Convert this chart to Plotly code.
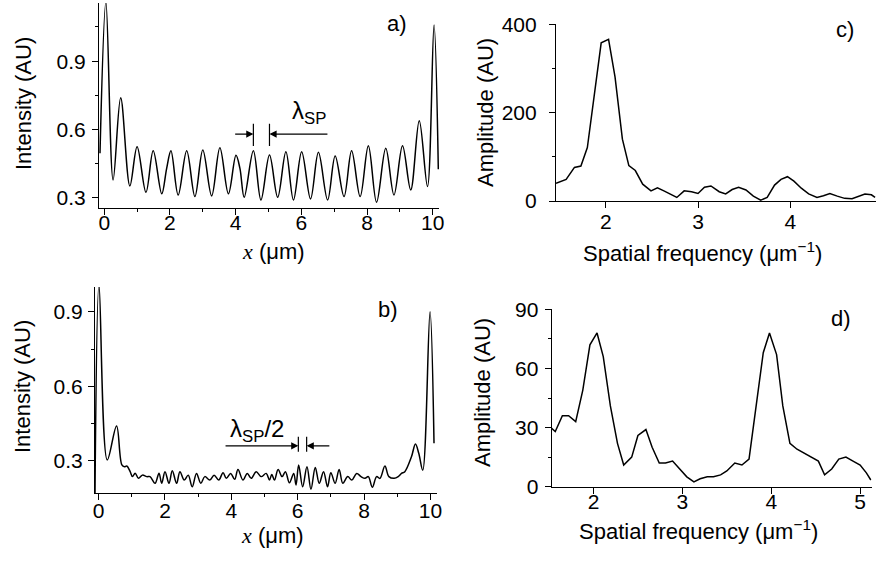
import plotly.graph_objects as go

# panel a: intensity profile, lambda_SP period
xa = [-0.13, 0.05, 0.27, 0.50, 0.78, 1.0, 1.27, 1.49, 1.75, 1.9, 2.03, 2.25, 2.51, 2.76, 3.0,
      3.27, 3.52, 3.78, 4.01, 4.13, 4.26, 4.54, 4.77, 5.03, 5.28, 5.53, 5.76, 6.01, 6.28, 6.52,
      6.80, 7.03, 7.30, 7.53, 7.79, 8.04, 8.29, 8.57, 8.82, 9.08, 9.33, 9.59, 9.84, 10.04, 10.17]
ya = [0.496, 1.16, 0.379, 0.739, 0.353, 0.525, 0.325, 0.507, 0.318, 0.43, 0.507, 0.313, 0.507,
      0.306, 0.51, 0.309, 0.52, 0.318, 0.487, 0.43, 0.303, 0.507, 0.291, 0.488, 0.303, 0.503,
      0.291, 0.503, 0.296, 0.5, 0.291, 0.484, 0.306, 0.507, 0.306, 0.529, 0.281, 0.518, 0.313,
      0.529, 0.335, 0.639, 0.35, 1.058, 0.426]

# panel b: intensity profile, lambda_SP/2 period
xb = [-0.11, 0.01, 0.26, 0.54, 0.70, 0.78, 0.85, 0.95, 1.02, 1.1, 1.2, 1.32, 1.45, 1.55, 1.7,
      1.82, 1.9, 2.0, 2.12, 2.22, 2.35, 2.45, 2.58, 2.7, 2.82, 2.95, 3.08, 3.2, 3.35, 3.48, 3.62,
      3.75, 3.85, 3.98, 4.1, 4.2, 4.35, 4.48, 4.6, 4.75, 4.9, 5.05, 5.15, 5.22, 5.3, 5.41, 5.53,
      5.63, 5.75, 5.88, 5.95, 6.03, 6.15, 6.28, 6.4, 6.53, 6.65, 6.78, 6.9, 7.0, 7.13, 7.25,
      7.36, 7.51, 7.63, 7.78, 7.91, 8.03, 8.13, 8.25, 8.38, 8.48, 8.63, 8.75, 8.91, 9.03, 9.13,
      9.23, 9.43, 9.55, 9.65, 9.77, 9.99, 10.11]
yb = [0.17, 1.01, 0.303, 0.44, 0.283, 0.276, 0.279, 0.256, 0.236, 0.25, 0.229, 0.242, 0.236,
      0.236, 0.209, 0.25, 0.209, 0.256, 0.209, 0.26, 0.209, 0.256, 0.222, 0.242, 0.195, 0.249,
      0.209, 0.236, 0.222, 0.242, 0.222, 0.252, 0.229, 0.249, 0.225, 0.265, 0.222, 0.249, 0.229,
      0.256, 0.236, 0.249, 0.222, 0.245, 0.222, 0.265, 0.236, 0.256, 0.211, 0.249, 0.202, 0.283,
      0.195, 0.276, 0.185, 0.273, 0.209, 0.256, 0.195, 0.252, 0.209, 0.265, 0.209, 0.236, 0.222,
      0.249, 0.236, 0.229, 0.236, 0.193, 0.236, 0.229, 0.279, 0.236, 0.229, 0.236, 0.249, 0.256,
      0.316, 0.367, 0.33, 0.262, 0.9, 0.37]

# panel c: spectrum of a
xc = [1.46, 1.57, 1.66, 1.73, 1.80, 1.87, 1.95, 2.03, 2.10, 2.18, 2.25, 2.32, 2.40, 2.49, 2.56,
      2.63, 2.71, 2.77, 2.85, 2.93, 3.0, 3.07, 3.14, 3.23, 3.30, 3.37, 3.44, 3.52, 3.60, 3.68,
      3.75, 3.83, 3.90, 3.97, 4.04, 4.12, 4.20, 4.29, 4.36, 4.43, 4.51, 4.59, 4.67, 4.74, 4.81,
      4.88, 4.92]
yc = [40, 49, 76, 79, 121, 236, 358, 366, 281, 140, 80, 69, 38, 23, 30, 23, 14, 8, 23, 21, 17,
      31, 34, 21, 16, 26, 31, 25, 11, 2, 8, 36, 49, 55, 45, 29, 16, 8, 12, 17, 11, 6, 5, 10, 16,
      14, 8]

# panel d: spectrum of b
xd = [1.52, 1.57, 1.65, 1.72, 1.80, 1.88, 1.96, 2.04, 2.11, 2.19, 2.27, 2.34, 2.43, 2.50, 2.59,
      2.66, 2.74, 2.81, 2.89, 2.97, 3.05, 3.13, 3.20, 3.28, 3.35, 3.43, 3.50, 3.59, 3.67, 3.75,
      3.83, 3.91, 3.98, 4.06, 4.13, 4.21, 4.29, 4.37, 4.45, 4.53, 4.60, 4.68, 4.76, 4.84, 4.92,
      5.0, 5.07, 5.12]
yd = [30, 28, 36, 36, 33, 49, 72, 78, 66, 41, 22, 11, 15, 26, 29, 20, 12, 12, 13, 9, 5, 2.4, 4,
      5, 5, 6, 8, 12, 11, 14, 40, 68, 78, 67, 41, 22, 19, 17, 15, 13, 6, 9, 14, 15, 13, 11, 7, 3.4]

W, H = 876, 561
FONT = "Liberation Sans, Arial, sans-serif"


def px(x):
    return x / W


def py(y):
    return 1 - y / H


def axis(domain, rng, dtick, mdtick=None, tick0=0, anchor=None, standoff=0):
    d = dict(domain=domain, range=rng, dtick=dtick, tick0=tick0, anchor=anchor,
             automargin=False, ticklabelstandoff=standoff,
             showline=True, linecolor="black", linewidth=1.2, showgrid=False, zeroline=False,
             ticks="outside", ticklen=6, tickwidth=1.2, tickcolor="black",
             tickfont=dict(size=21, color="black", family=FONT))
    if mdtick:
        d["minor"] = dict(ticks="outside", ticklen=3, tickwidth=1, tickcolor="black",
                          dtick=mdtick, tick0=tick0, showgrid=False)
    return d


fig = go.Figure()
line = dict(color="black", width=1.5)
fig.add_trace(go.Scatter(x=xa, y=ya, mode="lines", line=dict(line, shape="spline", smoothing=1),
                         xaxis="x", yaxis="y"))
fig.add_trace(go.Scatter(x=xb, y=yb, mode="lines", line=dict(line, shape="spline", smoothing=1),
                         xaxis="x2", yaxis="y2"))
fig.add_trace(go.Scatter(x=xc, y=yc, mode="lines", line=line, xaxis="x3", yaxis="y3"))
fig.add_trace(go.Scatter(x=xd, y=yd, mode="lines", line=line, xaxis="x4", yaxis="y4"))

fig.update_layout(
    width=W, height=H, margin=dict(l=0, r=0, t=0, b=0, autoexpand=False),
    paper_bgcolor="white", plot_bgcolor="white", showlegend=False,
    font=dict(family=FONT, color="black", size=21),
    xaxis=axis([px(99), px(439.3)], [-0.16, 10.2], 2, 1, anchor="y", standoff=-10),
    yaxis=axis([py(208), py(3)], [0.256, 1.155], 0.3, 0.15, tick0=0.3, anchor="x", standoff=2),
    xaxis2=axis([px(95), px(437)], [-0.11, 10.2], 2, 1, anchor="y2", standoff=-7),
    yaxis2=axis([py(493), py(287)], [0.17, 1.0], 0.3, 0.15, tick0=0.3, anchor="x2", standoff=1),
    xaxis3=axis([px(556), px(876)], [1.46, 4.93], 1, anchor="y3", standoff=-4),
    yaxis3=axis([py(201), py(24.3)], [0, 400], 200, 100, anchor="x3", standoff=8),
    xaxis4=axis([px(551.7), px(871.7)], [1.53, 5.13], 1, anchor="y4", standoff=-10),
    yaxis4=axis([py(486.7), py(309.3)], [0, 90], 30, 15, anchor="x4", standoff=2),
)

xlab = ("<span style='font-family:Liberation Serif;font-style:italic'>x</span> (μm)")
flab = "Spatial frequency (μm<sup>−1</sup>)"
titles = [
    (23, 104, "Intensity (AU)", -90), (273, 251, xlab, 0),
    (22, 387, "Intensity (AU)", -90), (272, 535, xlab, 0),
    (485, 112, "Amplitude (AU)", -90), (702, 252, flab, 0),
    (482, 393, "Amplitude (AU)", -90), (698, 530, flab, 0),
    (397, 23, "a)", 0), (388, 309, "b)", 0), (845, 29, "c)", 0), (841, 318, "d)", 0),
]
ann = []
for x, y, t, ang in titles:
    ann.append(dict(x=px(x), y=py(y), xref="paper", yref="paper", text=t, textangle=ang,
                    showarrow=False, xanchor="center", yanchor="middle",
                    font=dict(size=22, color="black", family=FONT)))

# lambda markers
ann.append(dict(x=6.24, y=0.675, xref="x", yref="y", text="λ<sub>SP</sub>", showarrow=False,
                font=dict(size=24, color="black", family=FONT)))
ann.append(dict(x=4.77, y=0.42, xref="x2", yref="y2", text="λ<sub>SP</sub>/2", showarrow=False,
                font=dict(size=24, color="black", family=FONT)))
arrows = [
    ("x", "y", 4.54, 0.58, 3.94, 0.58), ("x", "y", 5.03, 0.58, 6.84, 0.58),
    ("x2", "y2", 6.02, 0.36, 3.78, 0.36), ("x2", "y2", 6.27, 0.36, 7.0, 0.36),
]
for xr, yr, x, y, ax, ay in arrows:
    ann.append(dict(x=x, y=y, ax=ax, ay=ay, xref=xr, yref=yr, axref=xr, ayref=yr, text="",
                    showarrow=True, arrowhead=2, arrowsize=1.3, arrowwidth=1.1,
                    arrowcolor="black", standoff=0, startstandoff=0))
fig.update_layout(annotations=ann)

bars = [("x", "y", 4.54, 0.528, 0.625), ("x", "y", 5.03, 0.528, 0.625),
        ("x2", "y2", 6.02, 0.336, 0.397), ("x2", "y2", 6.27, 0.336, 0.397)]
for xr, yr, x, y0, y1 in bars:
    fig.add_shape(type="line", xref=xr, yref=yr, x0=x, x1=x, y0=y0, y1=y1,
                  line=dict(color="black", width=1.2))

fig.write_html("out.html", config={"displayModeBar": False},
               post_script="document.body.style.margin='0';")
